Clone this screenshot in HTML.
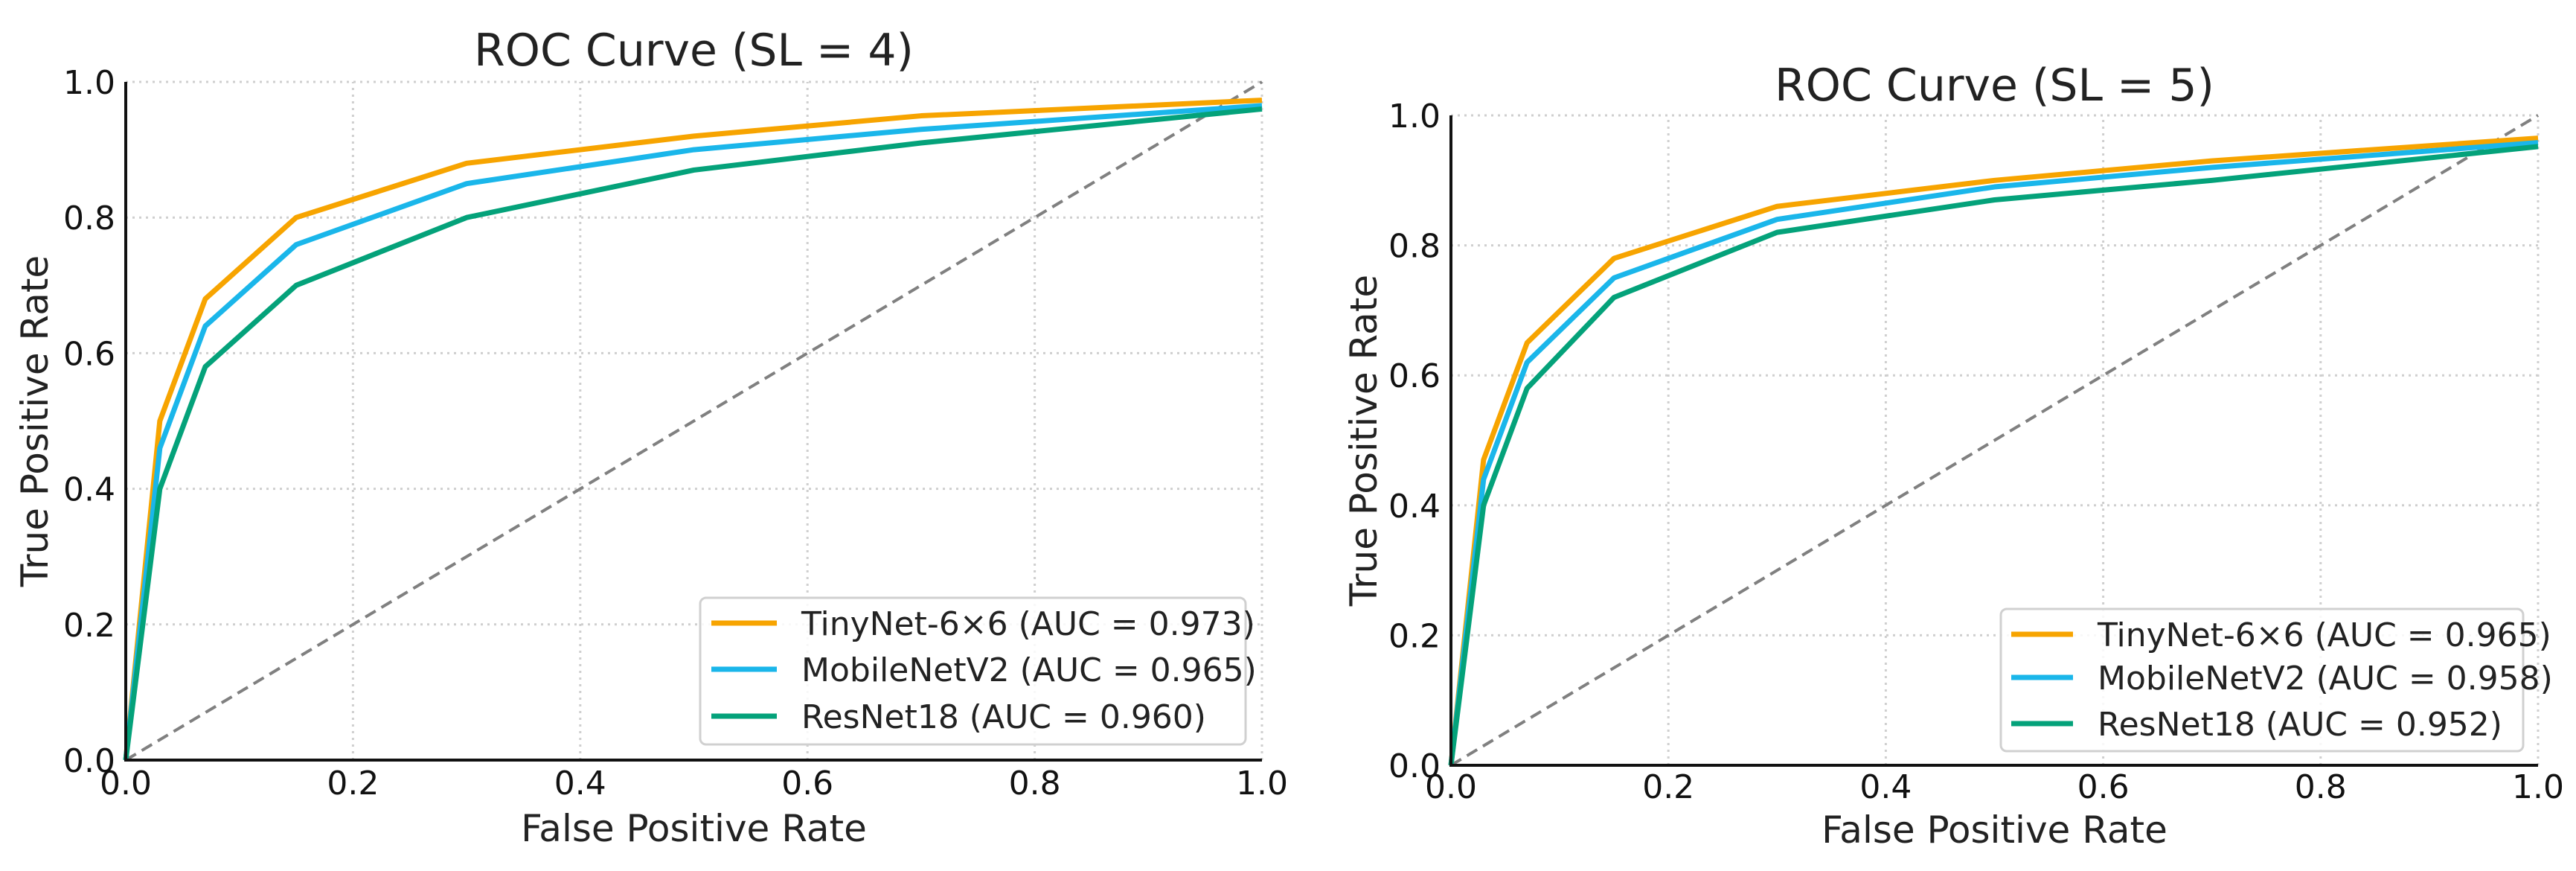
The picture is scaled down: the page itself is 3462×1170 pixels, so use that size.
<!DOCTYPE html>
<html><head><meta charset="utf-8">
<style>
html,body{margin:0;padding:0;background:#fff;}
svg{display:block;font-family:"DejaVu Sans","Liberation Sans",sans-serif;}
</style></head>
<body>
<svg id="root" width="3462" height="1170" viewBox="0 0 3462 1170" xmlns="http://www.w3.org/2000/svg"></svg>
<script>
const fprPoints = [0, 0.03, 0.07, 0.15, 0.3, 0.5, 0.7, 1.0];
const seriesNames = ["TinyNet-6×6", "MobileNetV2", "ResNet18"];
const seriesColors = ["#f7a400", "#1ab6ea", "#04a27a"];
const sl4Tiny = [0, 0.50, 0.68, 0.80, 0.88, 0.92, 0.95, 0.973];
const sl4Mobile = [0, 0.46, 0.64, 0.76, 0.85, 0.90, 0.93, 0.965];
const sl4Res = [0, 0.40, 0.58, 0.70, 0.80, 0.87, 0.91, 0.96];
const sl4Auc = ["0.973", "0.965", "0.960"];
const sl5Tiny = [0, 0.47, 0.65, 0.78, 0.86, 0.90, 0.93, 0.965];
const sl5Mobile = [0, 0.44, 0.62, 0.75, 0.84, 0.89, 0.92, 0.958];
const sl5Res = [0, 0.40, 0.58, 0.72, 0.82, 0.87, 0.90, 0.952];
const sl5Auc = ["0.965", "0.958", "0.952"];
const tickValues = [0, 0.2, 0.4, 0.6, 0.8, 1.0];
const tickLabels = ["0.0", "0.2", "0.4", "0.6", "0.8", "1.0"];

const NS = "http://www.w3.org/2000/svg";
const root = document.getElementById("root");
function mk(tag, attrs, parent){
  const e = document.createElementNS(NS, tag);
  for (const k in attrs) e.setAttribute(k, attrs[k]);
  (parent||root).appendChild(e);
  return e;
}

function drawPanel(cfg){
  const g = mk("g", {});
  
  
  const sx = v => cfg.x0 + v*(cfg.x1-cfg.x0);
  const sy = v => cfg.y0 - v*(cfg.y0-cfg.y1);
  tickValues.forEach((t,i)=>{
    if(i===0) return;
    const gx = mk("line",{x1:sx(t),x2:sx(t),y1:sy(0),y2:sy(1),stroke:"#cfcfcf","stroke-width":3,"stroke-dasharray":"3 6"},g);
    
    
    const gy = mk("line",{x1:sx(0),x2:sx(1),y1:sy(t),y2:sy(t),stroke:"#cfcfcf","stroke-width":3,"stroke-dasharray":"3 6"},g);
    
    
  });
  const d = mk("line",{x1:sx(0),y1:sy(0),x2:sx(1),y2:sy(1),stroke:"#808080","stroke-width":4,"stroke-dasharray":"16 9"},g);
  
  
  cfg.series.forEach((vals,si)=>{
    const pts = vals.map((v,i)=>sx(fprPoints[i])+","+sy(v)).join(" ");
    const p = mk("polyline",{points:pts,fill:"none",stroke:seriesColors[si],"stroke-width":7,"stroke-linejoin":"round"},g);
    
    
  });
  const sp = mk("polyline",{points:`${sx(0)},${sy(1)} ${sx(0)},${sy(0)} ${sx(1)},${sy(0)}`,fill:"none",stroke:"#111","stroke-width":4},g);
  
  
  tickValues.forEach((t,i)=>{
    const tx = mk("text",{x:sx(t),y:cfg.tickY,"font-size":44,"text-anchor":"middle",fill:"#111"},g);
    tx.textContent = tickLabels[i];
    
    
    const ty = mk("text",{x:sx(0)-14,y:sy(t)+16,"font-size":44,"text-anchor":"end",fill:"#111"},g);
    ty.textContent = tickLabels[i];
    
    
  });
  const ti = mk("text",{x:(cfg.x0+cfg.x1)/2,y:cfg.titleY,"font-size":60,"text-anchor":"middle",fill:"#222"},g);
  ti.textContent = cfg.title;
  
  
  const xl = mk("text",{x:(cfg.x0+cfg.x1)/2,y:cfg.xlabY,"font-size":50,"text-anchor":"middle",fill:"#222"},g);
  xl.textContent = "False Positive Rate";
  
  
  const yc = (cfg.y0+cfg.y1)/2;
  const yl = mk("text",{x:cfg.ylabX,y:yc,"font-size":50,"text-anchor":"middle",fill:"#222",transform:`rotate(-90 ${cfg.ylabX} ${yc})`},g);
  yl.textContent = "True Positive Rate";
  
  
  const L = cfg.legend;
  const lb = mk("rect",{x:L.x,y:L.y,width:L.w,height:L.h,rx:8,fill:"#fff","fill-opacity":0.85,stroke:"#d0d0d0","stroke-width":3},g);
  
  
  seriesNames.forEach((n,i)=>{
    const ey = L.rows[i];
    const ll = mk("line",{x1:L.lx0,x2:L.lx1,y1:ey,y2:ey,stroke:seriesColors[i],"stroke-width":7},g);
    
    
    const lt = mk("text",{x:L.tx,y:ey+16,"font-size":44,fill:"#222"},g);
    lt.textContent = `${n} (AUC = ${cfg.auc[i]})`;
    
    
  });
}

drawPanel({name:"roc-panel-sl4",title:"ROC Curve (SL = 4)",x0:169,x1:1696,y0:1021,y1:110,
  tickY:1067,titleY:88,xlabY:1130,ylabX:64,
  series:[sl4Tiny,sl4Mobile,sl4Res],auc:sl4Auc,
  legend:{x:941,y:803,w:733,h:197,lx0:956,lx1:1044,tx:1077,rows:[837,899,962]}});
drawPanel({name:"roc-panel-sl5",title:"ROC Curve (SL = 5)",x0:1950,x1:3411,y0:1028,y1:155,
  tickY:1072,titleY:135,xlabY:1132,ylabX:1850,
  series:[sl5Tiny,sl5Mobile,sl5Res],auc:sl5Auc,
  legend:{x:2689,y:818,w:702,h:191,lx0:2703,lx1:2786,tx:2819,rows:[852,910,972]}});
</script>
</body></html>
